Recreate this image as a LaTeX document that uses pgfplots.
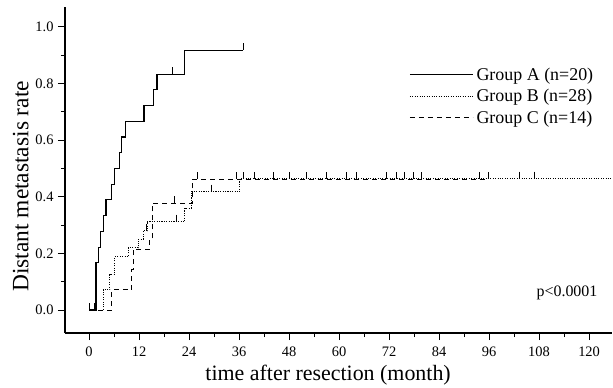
\documentclass[border=0pt]{standalone}
\usepackage{fontspec}
\setmainfont{Liberation Serif}
\usepackage{pgfplots}
\pgfplotsset{compat=1.18}
\usetikzlibrary{calc}
\begin{document}
\begin{tikzpicture}
\begin{axis}[
  name=ax,
  scale only axis, width=547bp, height=326bp,
  xmin=-5.76, xmax=125.5, ymin=-0.081, ymax=1.07,
  axis x line*=bottom, axis y line*=left,
  axis line style={line width=1.1bp,-},
  tick align=outside,
  major tick length=7bp, minor tick length=4bp,
  every tick/.style={black, line width=0.9bp},
  xtick={0,12,24,36,48,60,72,84,96,108,120}, minor x tick num=1,
  ytick={0,0.2,0.4,0.6,0.8,1}, minor y tick num=1,
  /pgf/number format/assume math mode=true,
  ticklabel style={font=\fontsize{14.5}{15}\selectfont},
  xticklabel style={yshift=-3bp},
  yticklabel style={xshift=-1bp, /pgf/number format/.cd, fixed, fixed zerofill, precision=1},
  xlabel={time after resection (month)},
  ylabel={Distant metastasis rate},
  xlabel style={at={(axis description cs:0.481,-0.147)}, anchor=base, inner sep=0pt, font=\fontsize{22}{24}\selectfont},
  ylabel style={at={(axis description cs:-0.066,0.45)}, anchor=south, rotate=0, inner sep=0pt, font=\fontsize{23.5}{25}\selectfont},
  legend style={at={(0.977,0.82)}, anchor=north east, draw=none, fill=none,
    font=\fontsize{18}{19}\selectfont, row sep=7.5bp, cells={anchor=west},
    nodes={inner xsep=3bp, inner ysep=0pt}},
  legend image code/.code={\draw[#1] (0bp,0bp) -- (63bp,0bp);},
]
% Group A
\addplot[const plot, black, line width=1.2bp] coordinates {
(0,0) (1.7,0.167) (2.3,0.222) (2.8,0.278) (3.4,0.333) (4.1,0.389) (5.4,0.444) (6.1,0.5) (7.3,0.556) (7.8,0.611) (8.8,0.667) (13.2,0.722) (15.4,0.778) (16.3,0.833) (23,0.917) (37,0.917)};
\addlegendentry{Group A (n=20)}
% Group B
\addplot[const plot, black, line width=1.1bp, dash pattern=on 1.1bp off 1.3bp] coordinates {
(0,0) (3.4,0.071) (5.0,0.125) (6.2,0.188) (9.4,0.22) (11.8,0.25) (13,0.28) (14,0.312) (23,0.36) (24.5,0.418) (36.2,0.464) (125.5,0.464)};
\addlegendentry{Group B (n=28)}
% Group C
\addplot[const plot, black, line width=1.1bp, dash pattern=on 5bp off 4bp] coordinates {
(0,0) (5.4,0.071) (10.2,0.143) (10.6,0.214) (14.6,0.25) (15.2,0.377) (24.8,0.462) (96,0.462)};
\addlegendentry{Group C (n=14)}
% censor marks
\addplot[forget plot, only marks, mark=|, mark size=3.5bp, line width=0.9bp, black,
  every mark/.append style={yshift=3.5bp}] coordinates {
(0,0) (1.2,0) (1.6,0) (20,0.833) (37,0.917)
(13.8,0.28) (21,0.312) (29.4,0.418) (103.4,0.464) (107,0.464)
(20.6,0.377) (26,0.462) (35.4,0.462) (37,0.462) (39.8,0.462) (44.2,0.462) (48.2,0.462) (52.2,0.462) (57,0.462) (61.8,0.462) (64.2,0.462) (71.4,0.462) (73.8,0.462) (75.8,0.462) (77.8,0.462) (79.8,0.462) (93.8,0.462) (95.8,0.462)};
\node[font=\fontsize{16}{17}\selectfont] at (axis cs:114.7,0.06) {p<0.0001};
\end{axis}
\pgfresetboundingbox
\path[use as bounding box] ($(ax.south west)+(-65bp,-55bp)$) rectangle ($(ax.north east)+(1bp,7bp)$);
\end{tikzpicture}
\end{document}
